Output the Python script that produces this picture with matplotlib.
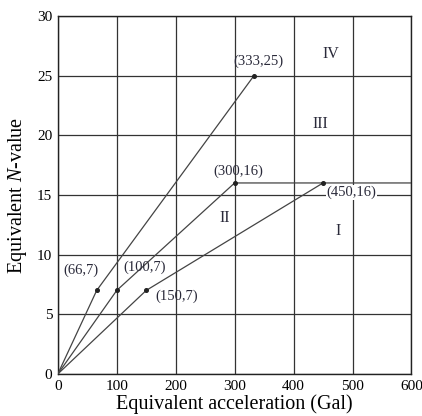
import matplotlib

matplotlib.use("Agg")
import matplotlib.pyplot as plt

plt.rcParams["font.family"] = ["Liberation Serif", "DejaVu Serif"]
plt.rcParams["mathtext.fontset"] = "custom"
plt.rcParams["mathtext.it"] = "Liberation Serif:italic"
plt.rcParams["mathtext.rm"] = "Liberation Serif"

# boundary curves: (acceleration Gal, N-value)
line_a_x = [0, 66, 333]
line_a_y = [0, 7, 25]
line_b_x = [0, 100, 300, 600]
line_b_y = [0, 7, 16, 16]
line_c_x = [0, 150, 450]
line_c_y = [0, 7, 16]

nodes = [(66, 7), (100, 7), (150, 7), (300, 16), (450, 16), (333, 25)]
node_label_pos = {
    (66, 7): (40, 8.7),
    (100, 7): (148, 8.9),
    (150, 7): (202, 6.5),
    (300, 16): (307, 17.0),
    (450, 16): (498, 15.2),
    (333, 25): (340, 26.2),
}
zones = ["I", "II", "III", "IV"]
zone_pos = [(475, 12.0), (283, 13.1), (445, 20.9), (463, 26.8)]

fig = plt.figure(figsize=(4.22, 4.16), dpi=100)
ax = fig.add_axes([0.137, 0.101, 0.838, 0.861])

ax.set_xlim(0, 600)
ax.set_ylim(0, 30)
ax.set_xticks(range(0, 601, 100))
ax.set_yticks(range(0, 31, 5))
ax.grid(True, color="#333333", lw=0.9)
ax.set_axisbelow(True)
ax.tick_params(length=0, labelsize=11, pad=4)
for s in ax.spines.values():
    s.set_linewidth(1.0)
    s.set_color("#222222")

for xs, ys in [(line_a_x, line_a_y), (line_b_x, line_b_y), (line_c_x, line_c_y)]:
    ax.plot(xs, ys, color="#444444", lw=0.9, zorder=3)

ax.plot([p[0] for p in nodes], [p[1] for p in nodes], "o", color="#222222",
        ms=2.6, zorder=4)
for p in nodes:
    tx, ty = node_label_pos[p]
    box = dict(facecolor="white", edgecolor="none", pad=0.5) if p == (450, 16) else None
    ax.text(tx, ty, f"({p[0]},{p[1]})", ha="center", va="center", fontsize=10.5,
            color="#2a2a3a", zorder=5, bbox=box)

for z, (zx, zy) in zip(zones, zone_pos):
    ax.text(zx, zy, z, ha="center", va="center", fontsize=11.5, color="#2a2a3a",
            zorder=5)

ax.set_xlabel("Equivalent acceleration (Gal)", fontsize=14.5, labelpad=1)
ax.set_ylabel("Equivalent $\\mathit{N}$-value", fontsize=14.5, labelpad=6)

fig.savefig("out.png", dpi=100)
